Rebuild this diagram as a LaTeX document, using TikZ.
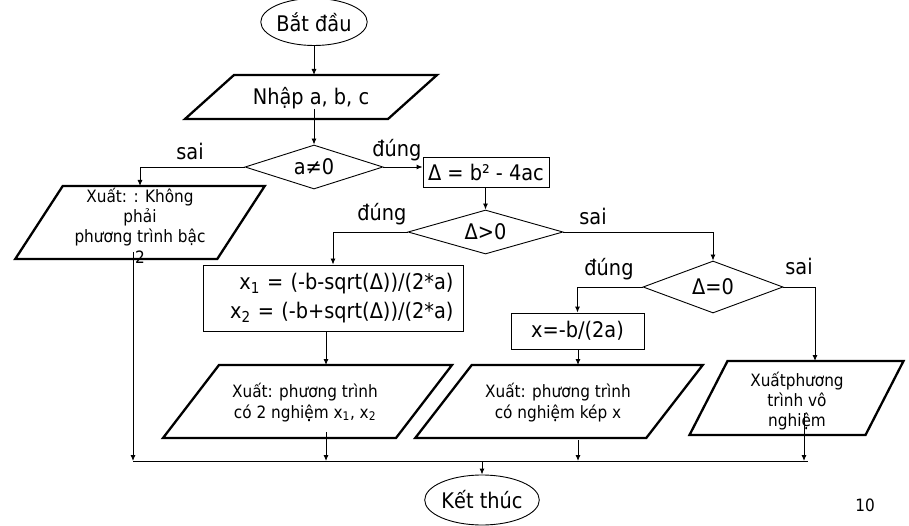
\documentclass[tikz,border=0pt]{standalone}
\usepackage{fontspec}
\setmainfont{DejaVu Sans Condensed}
\usetikzlibrary{arrows.meta,calc,shapes.geometric}
\newcommand\pgram[5]{\draw[paraline] ({#1-#3+#5/2},{#2-#4}) -- ({#1+#3+#5/2},{#2-#4}) -- ({#1+#3-#5/2},{#2+#4}) -- ({#1-#3-#5/2},{#2+#4}) -- cycle;}
\begin{document}
\begin{tikzpicture}[x=1pt,y=-1pt,
 conn/.style={line width=0.9pt,-{Latex[length=6pt,width=5pt]}},
 busline/.style={line width=0.9pt},
 big/.style={font=\fontsize{21.5}{24}\selectfont},
 small/.style={font=\fontsize{17}{20.3}\selectfont},
 term/.style={ellipse,draw,line width=0.9pt,inner sep=0pt,big},
 decision/.style={diamond,draw,line width=0.9pt,inner sep=0pt},
 procbox/.style={rectangle,draw,line width=0.9pt,inner sep=0pt,big},
 txt/.style={inner sep=0pt,align=center,small},
 lbl/.style={big,inner sep=0pt},
 paraline/.style={line width=2.3pt,line join=miter}
]
\useasboundingbox (0,0) rectangle (909,526);

% terminals
\node[term,minimum width=104pt,minimum height=47pt] (start) at (314,22) {Bắt đầu};
\node[term,minimum width=102pt,minimum height=50pt] (end) at (482,500) {Kết thúc};

% input
\pgram{311}{97}{101.5}{22}{49}
\node[lbl] (in) at (311,98) {Nhập a, b, c};

% decisions
\node[decision,minimum width=138pt,minimum height=44pt,label={[big]center:a≠0}] (d1) at (314,167) {};
\node[decision,minimum width=155pt,minimum height=44pt,label={[big]center:Δ>0}] (d2) at (485.5,232) {};
\node[decision,minimum width=140pt,minimum height=52pt,label={[big]center:Δ=0}] (d3) at (713,287) {};

% process boxes
\node[procbox,minimum width=126pt,minimum height=30pt] (delta) at (486,172) {Δ = b² - 4ac};
\node[procbox,minimum height=66pt,text width=241pt,inner xsep=9.5pt,align=right,font=\fontsize{21.5}{29}\selectfont] (x1) at (333,298) {x\textsubscript{1} = (-b-sqrt(Δ))/(2*a)\\x\textsubscript{2} = (-b+sqrt(Δ))/(2*a)};
\node[procbox,minimum width=133pt,minimum height=36pt] (xb) at (577.5,331) {x=-b/(2a)};

% outputs
\pgram{140}{222.5}{101}{36.5}{47.5}
\node[txt] (k1) at (140,225.5) {Xuất: : Không\\phải\\phương trình bậc\\2};
\pgram{307.5}{401.5}{116.5}{36.5}{56}
\node[txt] (o2) at (305,402.5) {Xuất: phương trình\\có 2 nghiệm x\textsubscript{1}, x\textsubscript{2}};
\pgram{559}{401.5}{115.5}{36.5}{56.5}
\node[txt] (o3) at (558,402.5) {Xuất: phương trình\\có nghiệm kép x};
\pgram{796.5}{398}{88}{37}{38}
\node[txt] (o4) at (797,401) {Xuấtphương\\trình vô\\nghiệm};

% branch labels
\node[lbl] (s1) at (190,151) {sai};
\node[lbl] (t1) at (397,150) {đúng};
\node[lbl] (t2) at (382,214) {đúng};
\node[lbl] (s2) at (593,216) {sai};
\node[lbl] (t3) at (609,269) {đúng};
\node[lbl] (s3) at (799,266) {sai};
\node[font=\fontsize{17}{20}\selectfont,inner sep=0pt] (pg) at (865,505) {10};

% named connection points
\coordinate (inT) at (314,75);
\coordinate (k1T) at (140,186);
\coordinate (k1B) at (133,252);
\coordinate (o2T) at (326,365);
\coordinate (o2B) at (326,432);
\coordinate (o3T) at (578,365);
\coordinate (o3B) at (578,440);
\coordinate (o4T) at (815,361);
\coordinate (o4B) at (804,413);
\coordinate (busL) at (133,461);
\coordinate (busR) at (808,461);

% connectors
\draw[conn] (start.south) -- (inT);
\draw[conn] (d1.north |- in.south) -- (d1.north);
\draw[conn] (d1.west) -| (k1T);
\draw[conn] (d1.east) -- (d1.east -| delta.west);
\draw[conn] (d2.north |- delta.south) -- (d2.north);
\draw[conn] (d2.west) -| (x1.north);
\draw[conn] (d2.east) -| (d3.north);
\draw[conn] (d3.west) -| (xb.north);
\draw[conn] (d3.east) -| (o4T);
\draw[conn] (o2T |- x1.south) -- (o2T);
\draw[conn] (o3T |- xb.south) -- (o3T);
\draw[busline] (busL) -- (busR);
\draw[conn] (k1B) -- (busL);
\draw[conn] (o2B) -- (o2B |- busL);
\draw[conn] (o3B) -- (o3B |- busL);
\draw[conn] (o4B) -- (o4B |- busL);
\draw[conn] (end.north |- busL) -- (end.north);
\end{tikzpicture}
\end{document}
